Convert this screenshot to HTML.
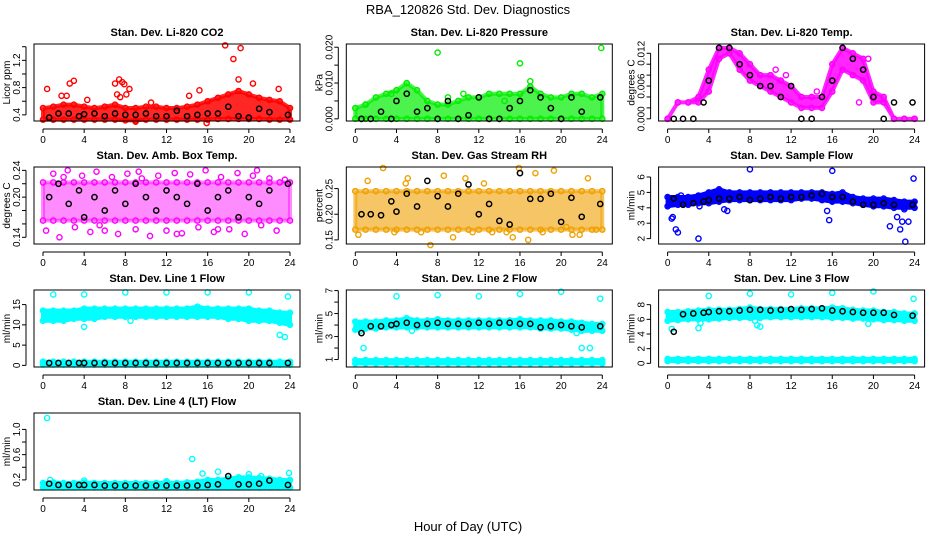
<!DOCTYPE html>
<html><head><meta charset="utf-8"><style>
body{margin:0;background:#fff}
svg{display:block;font-family:"Liberation Sans",sans-serif}
</style></head><body>
<svg id="c" width="936" height="540" viewBox="0 0 936 540">
<text x="468" y="14" text-anchor="middle" font-size="13">RBA_120826  Std. Dev. Diagnostics</text>
<text x="468" y="531" text-anchor="middle" font-size="13">Hour of Day (UTC)</text>
</svg>
<script>
const bandHours=[0,1,2,3,4,5,6,7,8,9,10,11,12,13,14,15,16,17,18,19,20,21,22,23,24];
const blackHours=[0.6,1.5,2.5,3.5,4,5,6,7,8,9,10,11,12,13,14,15,16,17,18,19,20,21,22,23.8];
const xTicks=[0,4,8,12,16,20,24];

const co2Lo=[0.33,0.33,0.33,0.33,0.33,0.33,0.33,0.33,0.32,0.32,0.33,0.33,0.33,0.33,0.33,0.33,0.33,0.34,0.34,0.34,0.34,0.34,0.33,0.33,0.33];
const co2Hi=[0.5,0.52,0.55,0.55,0.52,0.5,0.52,0.55,0.5,0.5,0.52,0.52,0.5,0.5,0.52,0.55,0.6,0.65,0.7,0.75,0.7,0.65,0.62,0.6,0.5];
const co2OutH=[0.4,2.6,3,1.8,2.3,4.3,7,7.4,7.7,7.9,8.1,8.4,7.2,7.5,17.7,19.2,18.5,19,20.4,22.9,15.9,15.2,14.2,9,10.5];
const co2OutV=[0.78,0.86,0.9,0.68,0.68,0.62,0.86,0.92,0.88,0.85,0.7,0.78,0.7,0.66,1.42,1.38,1.22,0.92,0.86,0.78,0.28,0.76,0.68,0.3,0.58];
const co2Black=[0.36,0.42,0.42,0.38,0.41,0.42,0.38,0.42,0.4,0.4,0.42,0.38,0.38,0.46,0.38,0.4,0.42,0.42,0.52,0.38,0.36,0.49,0.44,0.4];

const prLo=bandHours.map(()=>0);
const prHi=[0.003,0.004,0.006,0.007,0.008,0.01,0.008,0.005,0.004,0.004,0.005,0.006,0.006,0.007,0.007,0.007,0.007,0.009,0.007,0.006,0.006,0.007,0.007,0.006,0.007];
const prOutH=[8,16,23.9,17,1,3.5,9,10.5,14.5];
const prOutV=[0.0185,0.0155,0.0198,0.0105,0.004,0.007,0.006,0.007,0.005];
const prBlack=[0,0,0.002,0,0.005,0.007,0.002,0.003,0,0.005,0,0.001,0.006,0,0,0.003,0.005,0.008,0.006,0.003,0,0.006,0.002,0.006];

const tpLo=[0,0.003,0.003,0.003,0.005,0.011,0.012,0.009,0.007,0.006,0.005,0.004,0.003,0.002,0.002,0.002,0.005,0.009,0.008,0.007,0.003,0.003,0,0,0];
const tpHi=[0,0.003,0.003,0.004,0.009,0.013,0.013,0.012,0.01,0.008,0.008,0.007,0.006,0.004,0.004,0.004,0.01,0.013,0.012,0.011,0.005,0.004,0,0,0];
const tpOutH=[10.5,11.5,14.5,18.6,19.5];
const tpOutV=[0.009,0.008,0.005,0.003,0.011];
const tpBlack=[0,0,0,0.003,0.007,0.013,0.013,0.01,0.008,0.006,0.006,0.004,0.006,0,0,0.004,0.007,0.013,0.011,0.009,0.004,0,0.003,0.003];

const abLo=bandHours.map(()=>0.165);
const abHi=bandHours.map(()=>0.222);
const abOutH=[0.3,1,1.6,2.4,3.1,3.8,4.6,5.2,6,6.7,7.3,8.2,9,9.6,10.4,11.2,12,12.8,13.5,14.3,15.1,15.8,16.6,17.3,18.1,18.9,19.6,20.4,21.2,22,22.7,23.5,2,5.5,9.3,13,17,20.8];
const abOutV=[0.15,0.235,0.14,0.24,0.155,0.232,0.148,0.238,0.15,0.23,0.145,0.235,0.152,0.228,0.142,0.232,0.15,0.236,0.146,0.234,0.155,0.24,0.148,0.23,0.152,0.236,0.145,0.232,0.158,0.228,0.15,0.226,0.23,0.158,0.238,0.145,0.152,0.24];
const abBlack=[0.2,0.22,0.19,0.21,0.17,0.2,0.18,0.21,0.19,0.22,0.2,0.18,0.21,0.2,0.19,0.22,0.18,0.2,0.21,0.17,0.2,0.19,0.21,0.22];

const rhLo=bandHours.map(()=>0.17);
const rhHi=bandHours.map(()=>0.245);
const rhOutH=[0.3,1.2,2.7,3.8,5.1,6.4,7.3,8.6,9.5,10.7,11.4,13.3,14.7,15.3,15.9,16.8,17.5,18.2,19.3,20.5,21.1,21.8,22.6,23.4,4.9,12.5];
const rhOutV=[0.16,0.265,0.29,0.165,0.27,0.165,0.14,0.275,0.155,0.27,0.165,0.165,0.165,0.155,0.29,0.15,0.28,0.165,0.285,0.175,0.16,0.16,0.27,0.17,0.26,0.26];
const rhBlack=[0.2,0.2,0.198,0.225,0.205,0.24,0.215,0.265,0.235,0.215,0.24,0.258,0.2,0.22,0.187,0.18,0.28,0.23,0.23,0.24,0.185,0.232,0.195,0.22];

const sfLo=[4.1,4.2,4.2,4.3,4.3,4.4,4.5,4.5,4.5,4.5,4.5,4.5,4.5,4.6,4.6,4.5,4.4,4.4,4.3,4.2,4.1,4.1,4.0,4.0,4.0];
const sfHi=[4.7,4.7,4.7,4.8,5.0,5.2,5.0,5.0,5.0,5.0,5.0,5.0,5.0,5.0,5.0,5.0,4.9,5.0,4.7,4.6,4.6,4.6,4.5,4.4,4.4];
const sfOutH=[0.4,0.5,0.8,1,3,5.5,5.8,8,15.5,15.7,16,21.6,22.3,22.6,22.8,23.1,23.4,23.9,23,1.3,3.1];
const sfOutV=[3.3,3.4,2.6,2.4,2,3.9,3.8,6.5,3.8,3.2,6.4,2.8,3.4,2.6,3.1,1.8,3.1,5.9,3.9,4.8,4.1];
const sfBlack=[4.6,4.2,4.3,4.4,4.5,4.6,4.6,4.7,4.5,4.6,4.7,4.6,4.7,4.7,4.8,4.9,4.7,4.7,4.4,4.2,4.2,4.3,4.2,4.2];

const l1Lo=[11,11,11,11.5,11.5,11.5,12,12,12,12,12,12,12,12,12,12,12,12,11.5,11.5,11,11,11,10.5,10];
const l1Hi=[13.5,13.5,13.5,13.5,14,14,14,14,14,14,14,14,14,14,14,14.5,14,14,14,14,14,13.5,13.5,13,13];
const l1Lo2=bandHours.map(()=>0.2);
const l1Hi2=bandHours.map(()=>0.9);
const l1OutH=[1,4,8,12,16,20,23.8,4,8.5,23,23.5];
const l1OutV=[17.5,17.5,18,18,18,18,17,9.5,11,7.5,7];
const l1Black=blackHours.map(()=>0.6);

const l2Lo=[3.6,3.7,3.7,3.8,3.8,3.8,3.8,3.8,3.8,3.8,3.8,3.8,3.8,3.8,3.8,3.8,3.8,3.8,3.7,3.7,3.7,3.6,3.5,3.5,3.5];
const l2Hi=[4.3,4.3,4.3,4.4,4.4,4.6,4.4,4.4,4.5,4.4,4.4,4.4,4.4,4.4,4.4,4.4,4.5,4.4,4.4,4.4,4.3,4.3,4.2,4.1,4.1];
const l2Lo2=bandHours.map(()=>0.65);
const l2Hi2=bandHours.map(()=>0.95);
const l2OutH=[0.5,0.8,4,8,12,16,20,23.8,22,22.8,21.5,5.5];
const l2OutV=[3.5,2,6.5,6.6,6.5,6.7,6.9,6.3,2,2,3.3,3.5];
const l2Black=[3.3,3.9,3.9,4.0,4.1,4.2,4.0,4.1,4.2,4.1,4.1,4.1,4.2,4.1,4.2,4.2,4.1,4.1,3.8,3.9,4.0,3.9,3.8,3.9];

const l3Lo=[5.8,5.9,6.0,6.0,6.0,6.1,6.2,6.2,6.2,6.2,6.3,6.3,6.3,6.3,6.3,6.3,6.2,6.2,6.1,6.1,6.0,5.9,5.9,5.8,5.8];
const l3Hi=[7.0,7.0,7.1,7.2,7.3,7.3,7.3,7.4,7.6,7.4,7.4,7.4,7.4,7.5,7.5,7.5,7.6,7.5,7.3,7.2,7.2,7.0,7.0,6.8,6.8];
const l3Lo2=bandHours.map(()=>0.3);
const l3Hi2=bandHours.map(()=>0.6);
const l3OutH=[4,8,12,16,20,23.9,0.4,3,3.2,8.5,8.7,9,19.5];
const l3OutV=[9.2,9.5,9.4,9.6,9.8,8.8,4.7,4.8,5.5,5.8,5.2,5.0,5.4];
const l3Black=[4.3,6.7,6.8,6.9,7.0,7.1,7.1,7.2,7.3,7.3,7.2,7.3,7.4,7.3,7.4,7.5,7.2,7.1,7.0,6.9,6.9,6.9,6.6,6.5];

const l4Lo=bandHours.map(()=>0.08);
const l4Hi=[0.15,0.16,0.15,0.15,0.16,0.15,0.15,0.15,0.15,0.15,0.15,0.15,0.16,0.15,0.16,0.17,0.2,0.2,0.22,0.24,0.24,0.23,0.22,0.2,0.2];
const l4OutH=[0.4,14.5,15.5,17,20,23.9,19,21.2,0.7,4,12];
const l4OutV=[1.18,0.53,0.3,0.33,0.29,0.31,0.24,0.26,0.2,0.19,0.18];
const l4Black=[0.14,0.12,0.12,0.12,0.12,0.12,0.11,0.11,0.11,0.11,0.11,0.11,0.11,0.11,0.11,0.11,0.12,0.13,0.26,0.13,0.13,0.14,0.19,0.12];

const panels=[
 {t:"Stan. Dev. Li-820 CO2",yl:"Licor ppm",col:0,row:0,y0:0.31,y1:1.44,tk:[0.4,0.6,0.8,1.0,1.2,1.4],lb:["0.4","","0.8","","1.2",""],c:"#ff0000",op:0.85,bands:[[co2Lo,co2Hi]],oh:co2OutH,ov:co2OutV,bk:co2Black},
 {t:"Stan. Dev. Li-820 Pressure",yl:"kPa",col:1,row:0,y0:-0.0006,y1:0.0209,tk:[0,0.005,0.01,0.015,0.02],lb:["0.000","","0.010","","0.020"],c:"#00ee00",op:0.7,bands:[[prLo,prHi]],oh:prOutH,ov:prOutV,bk:prBlack},
 {t:"Stan. Dev. Li-820 Temp.",yl:"degrees C",col:2,row:0,y0:-0.0004,y1:0.0137,tk:[0,0.002,0.004,0.006,0.008,0.01,0.012],lb:["0.000","","","0.006","","","0.012"],c:"#ff00ff",op:0.85,bands:[[tpLo,tpHi]],oh:tpOutH,ov:tpOutV,bk:tpBlack},
 {t:"Stan. Dev. Amb. Box Temp.",yl:"degrees C",col:0,row:1,y0:0.13,y1:0.245,tk:[0.14,0.16,0.18,0.2,0.22,0.24],lb:["0.14","","","0.20","","0.24"],c:"#ff00ff",op:0.45,bands:[[abLo,abHi]],oh:abOutH,ov:abOutV,bk:abBlack},
 {t:"Stan. Dev. Gas Stream RH",yl:"percent",col:1,row:1,y0:0.142,y1:0.292,tk:[0.15,0.2,0.25],lb:["0.15","0.20","0.25"],c:"#f0a000",op:0.6,bands:[[rhLo,rhHi]],oh:rhOutH,ov:rhOutV,bk:rhBlack},
 {t:"Stan. Dev. Sample Flow",yl:"ml/min",col:2,row:1,y0:1.65,y1:6.65,tk:[2,3,4,5,6],lb:["2","3","4","5","6"],c:"#0000ff",op:1,bands:[[sfLo,sfHi]],oh:sfOutH,ov:sfOutV,bk:sfBlack},
 {t:"Stan. Dev. Line 1 Flow",yl:"ml/min",col:0,row:2,y0:-0.4,y1:18.6,tk:[0,5,10,15],lb:["0","5","10","15"],c:"#00ffff",op:1,bands:[[l1Lo,l1Hi],[l1Lo2,l1Hi2]],oh:l1OutH,ov:l1OutV,bk:l1Black},
 {t:"Stan. Dev. Line 2 Flow",yl:"ml/min",col:1,row:2,y0:0.35,y1:7.05,tk:[1,2,3,4,5,6,7],lb:["1","","3","","5","","7"],c:"#00ffff",op:1,bands:[[l2Lo,l2Hi],[l2Lo2,l2Hi2]],oh:l2OutH,ov:l2OutV,bk:l2Black},
 {t:"Stan. Dev. Line 3 Flow",yl:"ml/min",col:2,row:2,y0:-0.5,y1:10,tk:[0,2,4,6,8],lb:["0","2","4","6","8"],c:"#00ffff",op:1,bands:[[l3Lo,l3Hi],[l3Lo2,l3Hi2]],oh:l3OutH,ov:l3OutV,bk:l3Black},
 {t:"Stan. Dev. Line 4 (LT) Flow",yl:"ml/min",col:0,row:3,y0:0.04,y1:1.26,tk:[0.2,0.4,0.6,0.8,1.0],lb:["0.2","","0.6","","1.0"],c:"#00ffff",op:1,bands:[[l4Lo,l4Hi]],oh:l4OutH,ov:l4OutV,bk:l4Black}
];
const NS="http://www.w3.org/2000/svg";
const svg=document.getElementById('c');
function mk(tag,attrs,parent){const e=document.createElementNS(NS,tag);for(const k in attrs)e.setAttribute(k,attrs[k]);parent.appendChild(e);return e;}
panels.forEach((p,i)=>{
 const L=34+p.col*312.3, R=L+266, T=44+p.row*123, B=T+77;
 const x0=L+9, x1=R-10;
 const X=h=>x0+(x1-x0)*h/24;
 const Y=v=>B-(B-T)*(v-p.y0)/(p.y1-p.y0);
 const g=mk('g',{},svg);
 
 
 const tt=mk('text',{x:(L+R)/2,y:T-8,'text-anchor':'middle','font-size':'11','font-weight':'bold'},g);
 tt.textContent=p.t;
 
 
 const yt=mk('text',{transform:`translate(${L-24},${(T+B)/2}) rotate(-90)`,'text-anchor':'middle','font-size':'10'},g);
 yt.textContent=p.yl;
 
 
 const clip=mk('g',{},g);
 
 
 p.bands.forEach(b=>{
  const pts=bandHours.map((h,k)=>X(h)+','+Y(b[1][k])).concat(bandHours.slice().reverse().map((h,k)=>X(h)+','+Y(b[0][bandHours.length-1-k])));
  const pg=mk('polygon',{points:pts.join(' '),fill:p.c,'fill-opacity':p.op,stroke:p.c,'stroke-opacity':p.op,'stroke-width':4,'stroke-linejoin':'round'},clip);
  
  
  bandHours.forEach((h,k)=>{[b[0][k],b[1][k]].forEach(v=>{
   const c=mk('circle',{cx:X(h),cy:Y(v),r:2.6,fill:'none',stroke:p.c,'stroke-width':1.4},clip);
   
   
  });});
 });
 p.oh.forEach((h,k)=>{
  const c=mk('circle',{cx:X(h),cy:Y(p.ov[k]),r:2.6,fill:'none',stroke:p.c,'stroke-width':1.4},clip);
  
  
 });
 blackHours.forEach((h,k)=>{
  const c=mk('circle',{cx:X(h),cy:Y(p.bk[k]),r:2.6,fill:'none',stroke:'#000','stroke-width':1.5},clip);
  
  
 });
 const box=mk('rect',{x:L,y:T,width:R-L,height:B-T,fill:'none',stroke:'#000','stroke-width':1},g);
 
 
 mk('line',{x1:X(0),x2:X(24),y1:B+8,y2:B+8,stroke:'#000'},g);
 xTicks.forEach(h=>{
  mk('line',{x1:X(h),x2:X(h),y1:B+8,y2:B+12,stroke:'#000'},g);
  const t=mk('text',{x:X(h),y:B+22,'text-anchor':'middle','font-size':'10'},g);
  t.textContent=h;
  
  
 });
 mk('line',{x1:L-8,x2:L-8,y1:Y(p.tk[0]),y2:Y(p.tk[p.tk.length-1]),stroke:'#000'},g);
 p.tk.forEach((v,k)=>{
  mk('line',{x1:L-12,x2:L-8,y1:Y(v),y2:Y(v),stroke:'#000'},g);
  if(p.lb[k]){
   const t=mk('text',{transform:`translate(${L-14},${Y(v)}) rotate(-90)`,'text-anchor':'middle','font-size':'10'},g);
   t.textContent=p.lb[k];
   
   
  }
 });
});
</script>
</body></html>
